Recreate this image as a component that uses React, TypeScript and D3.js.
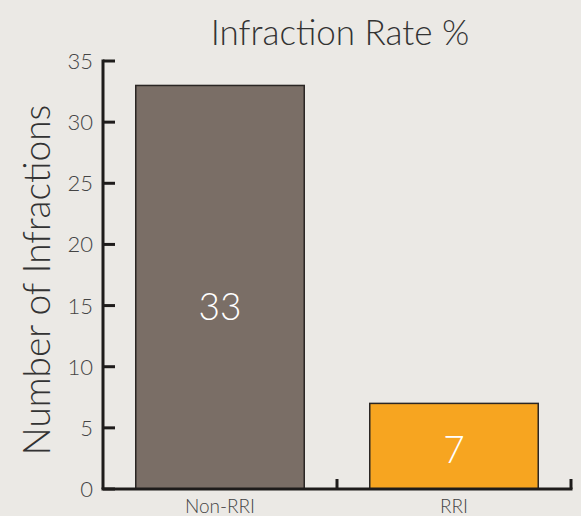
import React from "react";
import * as d3 from "d3";

const categories = ["Non-RRI", "RRI"];
const values = [33, 7];
const colors = ["#7a6e66", "#f7a520"];
const yTicks = [0, 5, 10, 15, 20, 25, 30, 35];

export default function App() {
  const W = 581, H = 516;
  const x = d3.scaleBand<string>().domain(categories).range([103, 571]).paddingInner(0.28).paddingOuter(0.14);
  const x0 = d3.scaleBand<string>().domain(categories).range([103, 571]);
  const y = d3.scaleLinear().domain([0, 35]).range([489, 61]);
  const font = "'Lato', 'Open Sans', sans-serif";
  return (
    <svg width={W} height={H} style={{ position: "absolute", left: 0, top: 0, background: "#ebe9e5" }}>
      <rect x={0} y={0} width={W} height={H} fill="#ebe9e5" />
      <text x={340} y={45} textAnchor="middle" fontFamily={font} fontWeight={300} fontSize={35} fill="#333">Infraction Rate %</text>
      <text transform={`translate(50,280) rotate(-90)`} textAnchor="middle" fontFamily={font} fontWeight={300} fontSize={37} fill="#333">Number of Infractions</text>
      {categories.map((c, i) => (
        <g key={c}>
          <rect x={x(c)} y={y(values[i])} width={x.bandwidth()} height={y(0) - y(values[i])} fill={colors[i]} stroke="#2a2624" strokeWidth={1.5} />
          <text x={x(c)! + x.bandwidth() / 2} y={y(values[i] * 0.45) + 13} textAnchor="middle" fontFamily={font} fontWeight={300} fontSize={37} fill="#fff">{values[i]}</text>
          <text x={x0(c)! + x0.bandwidth() / 2} y={513} textAnchor="middle" fontFamily={font} fontWeight={300} fontSize={19} fill="#444">{c}</text>
        </g>
      ))}
      {yTicks.map((t) => (
        <g key={t}>
          <line x1={103} x2={115} y1={y(t)} y2={y(t)} stroke="#1e1c1b" strokeWidth={3} />
          <text x={93} y={y(t) + 8} textAnchor="end" fontFamily={font} fontWeight={300} fontSize={22} fill="#444">{t}</text>
        </g>
      ))}
      {categories.map((c) => (
        <line key={c} x1={x0(c)! + x0.bandwidth()} x2={x0(c)! + x0.bandwidth()} y1={479} y2={489} stroke="#1e1c1b" strokeWidth={3} />
      ))}
      <line x1={103} x2={103} y1={y(35) - 1.5} y2={489} stroke="#1e1c1b" strokeWidth={3} />
      <line x1={101.5} x2={572.5} y1={489} y2={489} stroke="#1e1c1b" strokeWidth={3} />
    </svg>
  );
}
